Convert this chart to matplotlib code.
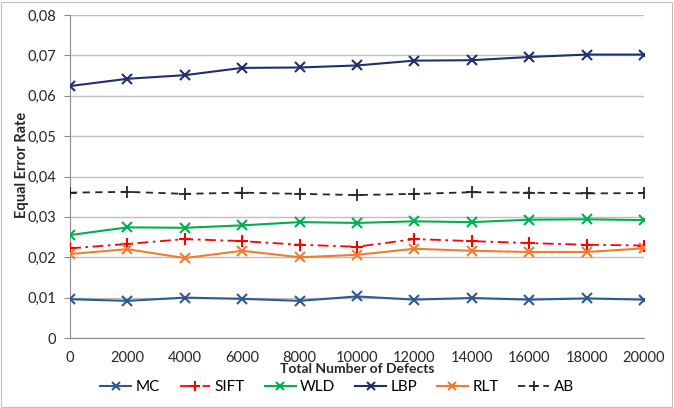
import matplotlib
matplotlib.use("Agg")
import matplotlib.pyplot as plt
from matplotlib.ticker import FuncFormatter

plt.rcParams['font.family'] = ['Lato', 'DejaVu Sans']

defects = [0, 2000, 4000, 6000, 8000, 10000, 12000, 14000, 16000, 18000, 20000]
mc   = [0.0096, 0.0092, 0.0100, 0.0097, 0.0092, 0.0103, 0.0095, 0.0099, 0.0095, 0.0098, 0.0095]
sift = [0.0222, 0.0233, 0.0245, 0.0240, 0.0231, 0.0226, 0.0245, 0.0240, 0.0235, 0.0231, 0.0229]
wld  = [0.0255, 0.0274, 0.0273, 0.0279, 0.0287, 0.0285, 0.0289, 0.0287, 0.0293, 0.0294, 0.0292]
lbp  = [0.0624, 0.0642, 0.0651, 0.0669, 0.0670, 0.0675, 0.0687, 0.0688, 0.0696, 0.0702, 0.0702]
rlt  = [0.0208, 0.0220, 0.0198, 0.0216, 0.0200, 0.0206, 0.0221, 0.0216, 0.0213, 0.0213, 0.0222]
ab   = [0.0360, 0.0362, 0.0357, 0.0360, 0.0357, 0.0354, 0.0357, 0.0361, 0.0360, 0.0358, 0.0359]
yticks = [0, 0.01, 0.02, 0.03, 0.04, 0.05, 0.06, 0.07, 0.08]

W, H = 674, 408
fig = plt.figure(figsize=(W/100, H/100), dpi=100)
ax = fig.add_axes([70/W, 1-338/H, (644-70)/W, (338-15)/H])

# chart border
fig.patches.append(plt.Rectangle((1/W, 1/H), 1-3/W, 1-3/H, transform=fig.transFigure,
                                 fill=False, edgecolor='#BFBFBF', linewidth=0.8))

ms = 7
ax.plot(defects, mc, color='#2F5A8E', marker='x', ms=ms, mew=1.5, lw=1.5, label='MC', zorder=3)
ax.plot(defects, sift, color='#FF0000', marker='+', ms=ms+2, mew=1.5, lw=1.3,
        linestyle=(0, (6, 2.5, 1.5, 2.5)), label='SIFT', zorder=3)
ax.plot(defects, wld, color='#00B050', marker='x', ms=ms, mew=1.5, lw=1.5, label='WLD', zorder=3)
ax.plot(defects, lbp, color='#1F2F6B', marker='x', ms=ms, mew=1.5, lw=1.5, label='LBP', zorder=3)
ax.plot(defects, rlt, color='#ED7D31', marker='x', ms=ms, mew=1.5, lw=1.5, label='RLT', zorder=3)
ax.plot(defects, ab, color='#262626', marker='+', ms=ms+2, mew=1.3, lw=1.3,
        linestyle=(0, (4, 3)), label='AB', zorder=3)

ax.set_xlim(0, 20000)
ax.set_ylim(0, 0.08)
ax.set_yticks(yticks)
ax.set_xticks(defects)
ax.yaxis.set_major_formatter(FuncFormatter(lambda v, p: '0' if v == 0 else f'{v:.2f}'.replace('.', ',')))
ax.grid(axis='y', color='#BFBFBF', linewidth=1)
ax.set_axisbelow(True)
for s in ['top', 'right']:
    ax.spines[s].set_visible(False)
ax.spines['left'].set_color('#8C8C8C')
ax.spines['bottom'].set_color('#8C8C8C')
ax.tick_params(axis='y', length=4, color='#8C8C8C', labelsize=10.5, pad=6, labelcolor='#262626')
ax.tick_params(axis='x', length=0, labelsize=10.5, pad=9, labelcolor='#262626')

fig.text(22/W, 1-165/H, 'Equal Error Rate', rotation=90, ha='center', va='center',
         fontsize=10.5, fontweight='bold', color='#262626')
fig.text(357/W, 1-369/H, 'Total Number of Defects', ha='center', va='center',
         fontsize=10, fontweight='bold', color='#262626')

fig.legend(loc='center', bbox_to_anchor=(0.5, 1-387/H), ncol=6, frameon=False,
           fontsize=11, handlelength=2.0, columnspacing=1.3, handletextpad=0.3,
           markerscale=0.85)

fig.savefig('out.png', dpi=100)
